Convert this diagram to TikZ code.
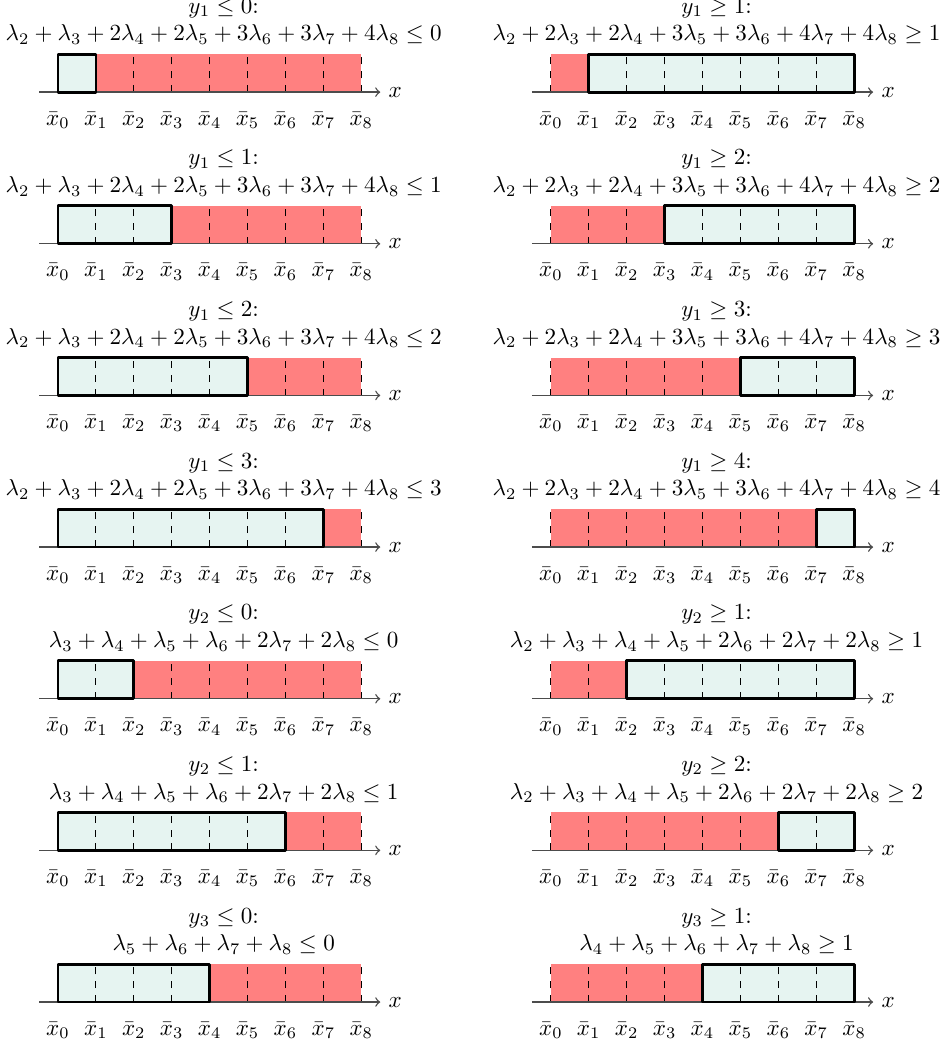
\documentclass[tikz,border=0pt]{standalone}
\usepackage{amssymb}
\definecolor{verdino}{RGB}{230,244,241}
\definecolor{rosso}{RGB}{255,128,128}

% --- una striscia: #1 nome, #2 origine, #3-#4 tratto verde, #5 titolo, #6 vincolo
\newcommand{\striscia}[6]{%
  \begin{scope}[shift={#2}]
    \fill[rosso] (0,0) rectangle (8,1);
    \fill[verdino] (#3,0) rectangle (#4,1);
    \foreach \i in {0,...,8} \draw[dashed,black] (\i,0) -- (\i,1);
    \coordinate (#1-a) at (-0.5,0);
    \coordinate (#1-b) at (8.5,0);
    \draw[->,black!70,line width=0.6pt] (#1-a) -- (#1-b) node[right,black] (#1-x) {$x$};
    \draw[very thick] (#3,0) rectangle (#4,1);
    \foreach \i in {0,...,8}
      \node[anchor=base] (#1-l\i) at (\i,-0.87) {$\bar{x}_{\i}$};
    \node[anchor=base] (#1-t) at (4.37,2.08) {#5};
    \node[anchor=base] (#1-v) at (4.37,1.35) {#6};
  \end{scope}}

\begin{document}
\begin{tikzpicture}[x=0.577cm,y=0.577cm,line join=round]
  \useasboundingbox (-1.53,-25.16) rectangle (23.37,2.43);

  % --- colonna sinistra: vincoli con <=
  \striscia{a1}{(0,0)}{0}{1}{$y_1 \leq 0$:}
    {$\lambda_2 + \lambda_3 + 2\lambda_4 + 2\lambda_5 + 3\lambda_6 + 3\lambda_7 + 4\lambda_8 \leq 0$}
  \striscia{a2}{(0,-4)}{0}{3}{$y_1 \leq 1$:}
    {$\lambda_2 + \lambda_3 + 2\lambda_4 + 2\lambda_5 + 3\lambda_6 + 3\lambda_7 + 4\lambda_8 \leq 1$}
  \striscia{a3}{(0,-8)}{0}{5}{$y_1 \leq 2$:}
    {$\lambda_2 + \lambda_3 + 2\lambda_4 + 2\lambda_5 + 3\lambda_6 + 3\lambda_7 + 4\lambda_8 \leq 2$}
  \striscia{a4}{(0,-12)}{0}{7}{$y_1 \leq 3$:}
    {$\lambda_2 + \lambda_3 + 2\lambda_4 + 2\lambda_5 + 3\lambda_6 + 3\lambda_7 + 4\lambda_8 \leq 3$}
  \striscia{a5}{(0,-16)}{0}{2}{$y_2 \leq 0$:}
    {$\lambda_3 + \lambda_4 + \lambda_5 + \lambda_6 + 2\lambda_7 + 2\lambda_8 \leq 0$}
  \striscia{a6}{(0,-20)}{0}{6}{$y_2 \leq 1$:}
    {$\lambda_3 + \lambda_4 + \lambda_5 + \lambda_6 + 2\lambda_7 + 2\lambda_8 \leq 1$}
  \striscia{a7}{(0,-24)}{0}{4}{$y_3 \leq 0$:}
    {$\lambda_5 + \lambda_6 + \lambda_7 + \lambda_8 \leq 0$}

  % --- colonna destra: vincoli con >=
  \striscia{b1}{(13,0)}{1}{8}{$y_1 \geq 1$:}
    {$\lambda_2 + 2\lambda_3 + 2\lambda_4 + 3\lambda_5 + 3\lambda_6 + 4\lambda_7 + 4\lambda_8 \geq 1$}
  \striscia{b2}{(13,-4)}{3}{8}{$y_1 \geq 2$:}
    {$\lambda_2 + 2\lambda_3 + 2\lambda_4 + 3\lambda_5 + 3\lambda_6 + 4\lambda_7 + 4\lambda_8 \geq 2$}
  \striscia{b3}{(13,-8)}{5}{8}{$y_1 \geq 3$:}
    {$\lambda_2 + 2\lambda_3 + 2\lambda_4 + 3\lambda_5 + 3\lambda_6 + 4\lambda_7 + 4\lambda_8 \geq 3$}
  \striscia{b4}{(13,-12)}{7}{8}{$y_1 \geq 4$:}
    {$\lambda_2 + 2\lambda_3 + 2\lambda_4 + 3\lambda_5 + 3\lambda_6 + 4\lambda_7 + 4\lambda_8 \geq 4$}
  \striscia{b5}{(13,-16)}{2}{8}{$y_2 \geq 1$:}
    {$\lambda_2 + \lambda_3 + \lambda_4 + \lambda_5 + 2\lambda_6 + 2\lambda_7 + 2\lambda_8 \geq 1$}
  \striscia{b6}{(13,-20)}{6}{8}{$y_2 \geq 2$:}
    {$\lambda_2 + \lambda_3 + \lambda_4 + \lambda_5 + 2\lambda_6 + 2\lambda_7 + 2\lambda_8 \geq 2$}
  \striscia{b7}{(13,-24)}{4}{8}{$y_3 \geq 1$:}
    {$\lambda_4 + \lambda_5 + \lambda_6 + \lambda_7 + \lambda_8 \geq 1$}
\end{tikzpicture}
\end{document}
